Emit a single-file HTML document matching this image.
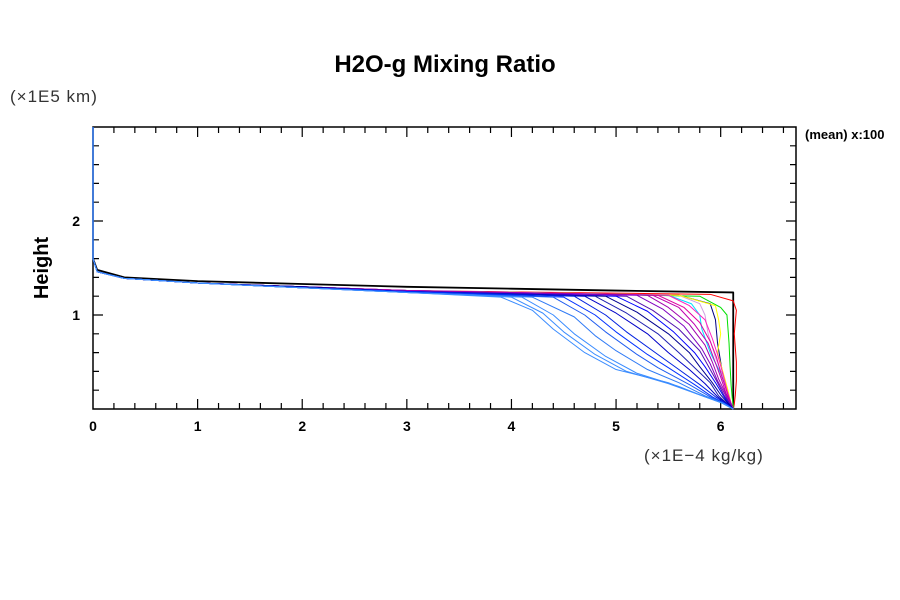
<!DOCTYPE html>
<html><head><meta charset="utf-8"><style>
body{margin:0;background:#fff;}
svg{display:block;font-family:"Liberation Sans",sans-serif;}
</style></head><body>
<svg id="chart" width="900" height="600">
<text x="445" y="72" text-anchor="middle" font-size="24" font-weight="bold">H2O-g Mixing Ratio</text>
<text x="10" y="102" font-size="17" fill="#333" letter-spacing="1">(×1E5 km)</text>
<text x="644" y="461" font-size="17" fill="#333" letter-spacing="1">(×1E−4 kg/kg)</text>
<text x="805" y="139" font-size="13" font-weight="bold">(mean) x:100</text>
<text x="48" y="268" font-size="20" font-weight="bold" text-anchor="middle" transform="rotate(-90 48 268)">Height</text>
<g id="axes"></g>
<g id="series"></g>
</svg>
<script>
const xTicks=[0,1,2,3,4,5,6];
const yTicks=[1,2];
const seriesColors=["#3a8cff","#3a8cff","#3a8cff","#2f7af5","#1f5cf0","#0030ff","#0020e0","#0000c8","#2020b0","#000090","#0000ff","#5010b0","#8000c0","#a000b0","#c000b0","#e000a0","#ff20c0","#00e0ff","#ffff00","#d0a0e0","#000080","#00e000","#ff0000"];
const seriesX=[
[0,0.04,0.3,1,2,3,3.9,4.2,4.4,4.7,5.0,5.5,5.8,6.0,6.12],
[0,0.04,0.3,1,2,3,4.0,4.3,4.5,4.8,5.1,5.5,5.8,6.0,6.12],
[0,0.04,0.3,1,2,3,4.1,4.4,4.6,4.9,5.2,5.6,5.85,6.02,6.12],
[0,0.04,0.3,1,2,3,4.2,4.6,4.8,5.0,5.3,5.6,5.85,6.03,6.12],
[0,0.04,0.3,1,2,3,4.4,4.7,4.9,5.2,5.4,5.7,5.9,6.04,6.12],
[0,0.04,0.3,1,2,3,4.5,4.8,5.0,5.3,5.5,5.75,5.92,6.05,6.12],
[0,0.04,0.3,1,2,3,4.6,4.9,5.1,5.4,5.6,5.8,5.95,6.06,6.12],
[0,0.04,0.3,1,2,3,4.7,5.0,5.3,5.5,5.7,5.85,5.97,6.07,6.12],
[0,0.04,0.3,1,2,3,4.8,5.1,5.4,5.6,5.75,5.9,5.98,6.07,6.12],
[0,0.04,0.3,1,2,3,4.9,5.2,5.5,5.7,5.8,5.92,6.0,6.08,6.12],
[0,0.04,0.3,1,2,3,5.0,5.3,5.55,5.75,5.85,5.95,6.02,6.08,6.12],
[0,0.04,0.3,1,2,3,5.1,5.35,5.6,5.8,5.88,5.96,6.03,6.09,6.12],
[0,0.04,0.3,1,2,3,5.2,5.45,5.65,5.82,5.9,5.97,6.04,6.09,6.12],
[0,0.04,0.3,1,2,3,5.3,5.5,5.7,5.85,5.92,5.98,6.05,6.1,6.12],
[0,0.04,0.3,1,2,3,5.35,5.6,5.75,5.88,5.94,6.0,6.05,6.1,6.12],
[0,0.04,0.3,1,2,3,5.4,5.65,5.8,5.9,5.96,6.01,6.06,6.1,6.12],
[0,0.04,0.3,1,2,3,5.5,5.7,5.85,5.92,5.97,6.02,6.06,6.1,6.12],
[0,0.04,0.3,1,2,3,5.5,5.72,5.8,5.82,5.9,6.0,6.06,6.1,6.12],
[0,0.04,0.3,1,2,3,5.6,5.95,5.98,6.0,5.97,6.02,6.07,6.1,6.12],
[0,0.04,0.3,1,2,3,5.6,5.8,5.85,5.88,5.95,6.02,6.07,6.1,6.12],
[0,0.04,0.3,1,2,3,5.6,5.9,5.95,5.97,6.0,6.03,6.07,6.1,6.12],
[0,0.04,0.3,1,2,3,5.8,6.0,6.06,6.08,6.09,6.1,6.11,6.12,6.12],
[0,0.04,0.3,1,2,3,5.9,6.12,6.15,6.13,6.15,6.15,6.14,6.13,6.12]
];
const seriesY=[
[1.6,1.46,1.39,1.34,1.29,1.24,1.19,1.05,0.85,0.6,0.42,0.28,0.15,0.07,0],
[1.6,1.46,1.39,1.34,1.29,1.24,1.19,1.02,0.82,0.58,0.4,0.27,0.15,0.07,0],
[1.6,1.46,1.39,1.34,1.29,1.24,1.19,1.0,0.8,0.56,0.38,0.24,0.13,0.06,0],
[1.6,1.46,1.39,1.34,1.29,1.24,1.19,0.98,0.78,0.62,0.42,0.28,0.14,0.06,0],
[1.6,1.46,1.39,1.34,1.29,1.24,1.19,1.0,0.82,0.58,0.44,0.26,0.13,0.05,0],
[1.6,1.46,1.39,1.34,1.29,1.25,1.19,1.0,0.82,0.58,0.44,0.26,0.13,0.05,0],
[1.6,1.46,1.39,1.34,1.29,1.25,1.2,1.0,0.82,0.58,0.42,0.26,0.13,0.05,0],
[1.6,1.46,1.39,1.34,1.29,1.25,1.2,1.02,0.8,0.6,0.42,0.27,0.13,0.05,0],
[1.6,1.46,1.39,1.34,1.29,1.25,1.2,1.02,0.8,0.6,0.44,0.28,0.14,0.05,0],
[1.6,1.46,1.39,1.34,1.3,1.25,1.2,1.03,0.8,0.6,0.45,0.28,0.15,0.05,0],
[1.6,1.46,1.39,1.34,1.3,1.25,1.2,1.04,0.82,0.6,0.45,0.28,0.15,0.05,0],
[1.6,1.46,1.39,1.34,1.3,1.25,1.2,1.05,0.85,0.62,0.46,0.3,0.15,0.05,0],
[1.6,1.46,1.39,1.34,1.3,1.25,1.21,1.06,0.88,0.64,0.48,0.3,0.16,0.05,0],
[1.6,1.46,1.39,1.34,1.3,1.26,1.21,1.08,0.9,0.68,0.5,0.32,0.16,0.05,0],
[1.6,1.46,1.39,1.34,1.3,1.26,1.21,1.08,0.9,0.7,0.52,0.34,0.17,0.05,0],
[1.6,1.46,1.39,1.34,1.3,1.26,1.21,1.08,0.92,0.72,0.55,0.35,0.18,0.05,0],
[1.6,1.46,1.39,1.34,1.3,1.26,1.21,1.1,0.95,0.75,0.58,0.38,0.2,0.06,0],
[1.6,1.46,1.39,1.34,1.3,1.26,1.21,1.12,1.0,0.85,0.6,0.38,0.2,0.06,0],
[1.6,1.46,1.39,1.34,1.3,1.26,1.21,1.1,0.95,0.8,0.6,0.4,0.2,0.06,0],
[1.6,1.46,1.39,1.34,1.3,1.26,1.21,1.12,1.0,0.8,0.55,0.35,0.18,0.06,0],
[1.6,1.46,1.39,1.34,1.3,1.26,1.21,1.12,0.95,0.7,0.5,0.3,0.15,0.05,0],
[1.6,1.46,1.39,1.34,1.3,1.26,1.2,1.08,1.0,0.7,0.45,0.25,0.12,0.04,0],
[1.6,1.46,1.39,1.34,1.3,1.26,1.22,1.15,1.05,0.8,0.5,0.3,0.15,0.05,0]
];
const meanX=[0,0.04,0.3,1,2,3,4,5,6.12,6.12];
const meanY=[1.6,1.48,1.4,1.36,1.33,1.3,1.28,1.26,1.24,0];
const x0=93,x1=796,y0=409,y1=127,xMax=6.72,yMax=3.0;
function sx(v){return x0+v/xMax*(x1-x0);}
function sy(v){return y0-v/yMax*(y0-y1);}
const NS="http://www.w3.org/2000/svg";
const axesG=document.getElementById('axes');
const serG=document.getElementById('series');
function mk(tag,at,parent){const e=document.createElementNS(NS,tag);for(const k in at)e.setAttribute(k,at[k]);parent.appendChild(e);return e;}
const frame=mk('rect',{x:x0,y:y1,width:x1-x0,height:y0-y1,fill:'none',stroke:'#000','stroke-width':1.5},axesG);


for(let i=1;i<=33;i++){const v=i*0.2;if(v>xMax)break;const X=sx(v);const L=(i%5===0)?10:6;
 const t=mk('path',{d:`M${X},${y0}v${-L}M${X},${y1}v${L}`,stroke:'#000','stroke-width':1.2},axesG);
 
 }
for(let i=1;i<15;i++){const v=i*0.2;const Y=sy(v);const L=(i%5===0)?10:6;
 const t=mk('path',{d:`M${x0},${Y}h${L}M${x1},${Y}h${-L}`,stroke:'#000','stroke-width':1.2},axesG);
 
 }
xTicks.forEach(v=>{const t=mk('text',{x:sx(v),y:431,'text-anchor':'middle','font-size':14,'font-weight':'bold'},axesG);t.textContent=v;
 
 });
yTicks.forEach(v=>{const t=mk('text',{x:80,y:sy(v)+5,'text-anchor':'end','font-size':14,'font-weight':'bold'},axesG);t.textContent=v;
 
 });
function drawLine(xs,ys,color,w,name){const p=mk('polyline',{points:xs.map((x,i)=>sx(x)+','+sy(ys[i])).join(' '),fill:'none',stroke:color,'stroke-width':w,'stroke-linejoin':'round'},serG);
 
 }
drawLine(meanX,meanY,'#000',1.8,'mean-line');
for(let i=seriesX.length-1;i>=0;i--)drawLine(seriesX[i],seriesY[i],seriesColors[i],1,'series-line');
const topLine=mk('line',{x1:sx(0),y1:sy(yMax),x2:sx(0),y2:sy(1.6),stroke:'#2f7af5','stroke-width':1.5},serG);


</script>
</body></html>
